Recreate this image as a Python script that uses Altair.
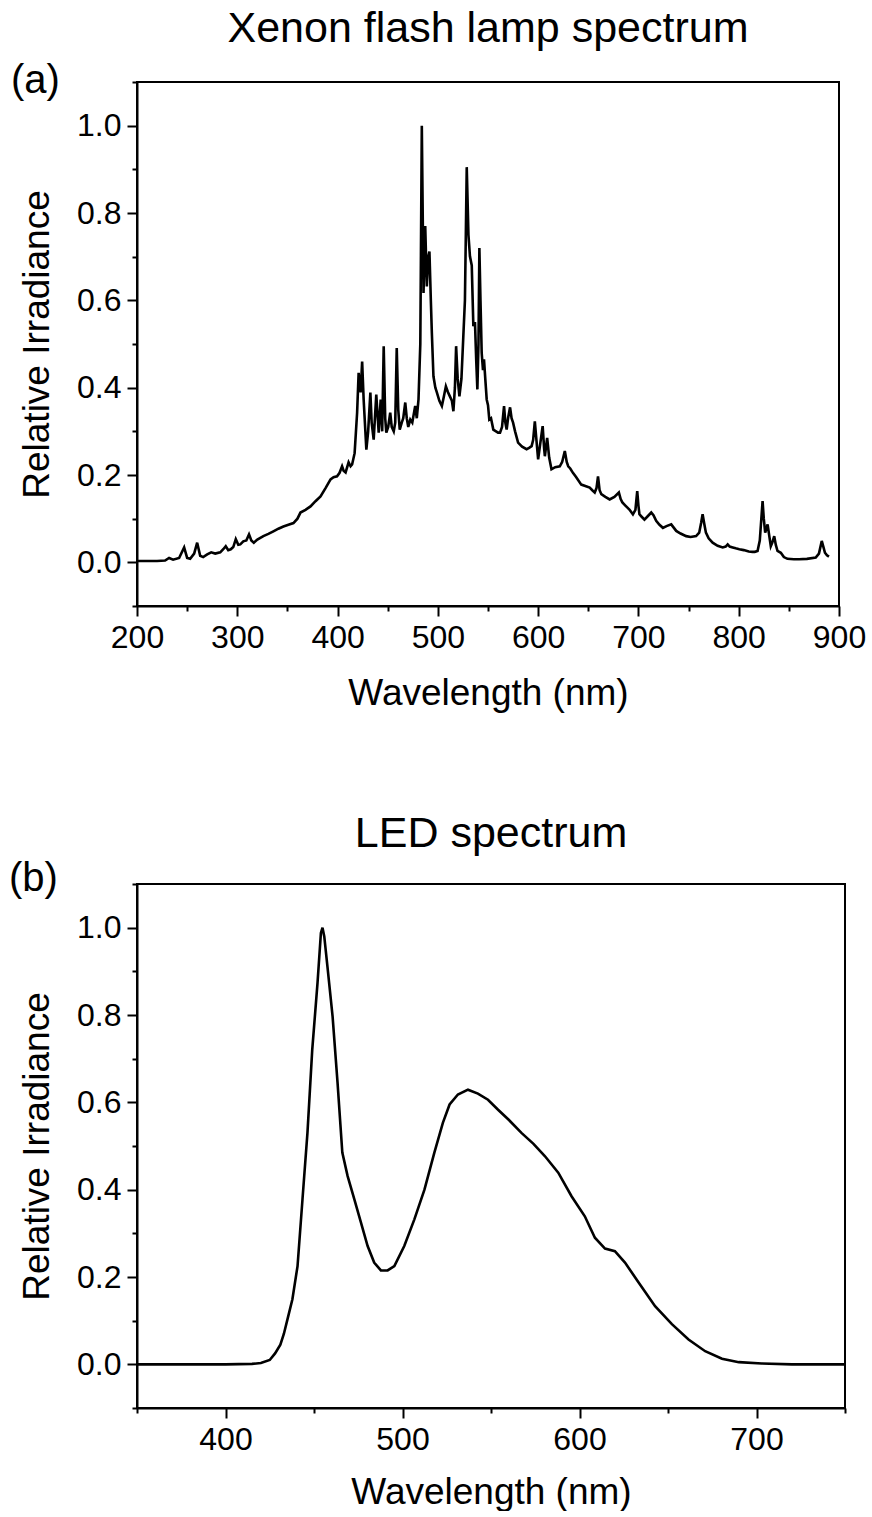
import altair as alt
import pandas as pd

# ---------------- data ----------------
xenon_nm = [200, 210, 220, 228, 232, 236, 242, 247, 250, 253, 257, 260, 263, 266, 270, 274, 278, 283, 286, 288.5,
            291, 293.5, 296, 298.5, 301, 303, 306, 309, 311.7, 314, 316.5, 320, 326, 331, 336, 341, 346, 351, 356, 360,
            363, 368, 373, 378, 383, 388, 393, 396, 399.5, 402, 404.5, 406, 408, 411, 413, 414.5, 417, 419.5, 421, 423,
            424.5, 426, 428.7, 430.5, 432.7, 434, 436, 438.6, 441, 443, 444.5, 446, 447.5, 448.6, 450.5, 452.5, 454, 456,
            457.5, 459, 460.5, 462, 464, 465.5, 467.5, 469, 470.5, 472.5, 474.5, 477.4, 479, 480.7, 482.5, 484, 485.7,
            487.4, 489, 490.5, 491.6, 493, 494, 495.6, 497.5, 499, 501.5, 504, 506, 508, 510, 512, 514, 515.5, 517,
            518.2, 519.8, 521.5, 523.5, 525.4, 527, 528.8, 530.5, 532, 533.8, 535.4, 537, 538.3, 539.4, 540.5, 541.4,
            542.5, 543.7, 545, 546, 547.3, 548.7, 550, 551.3, 553, 555.3, 558, 560, 562, 564, 566, 567.3, 568.6, 570,
            572, 573.5, 575, 577, 580, 584, 588.5, 591, 593.5, 595, 596.7, 598.3, 600, 602, 604.5, 606, 606.7, 609, 611,
            613.3, 617, 621.6, 624, 626.6, 628.5, 630, 632, 634.7, 638, 643, 647, 651.4, 654, 656.4, 658.2, 659.7,
            661.3, 663, 667, 671.3, 676, 680.5, 682.3, 684, 687, 691, 694.5, 697, 698.8, 700, 701, 703, 706, 709, 712.8,
            715, 717.7, 721, 724.4, 728, 732.7, 735, 737.7, 742, 747.6, 752, 757.5, 760.6, 762.5, 764, 765.5, 767.3,
            770, 774, 779, 784, 787, 789, 791, 794, 797, 800.6, 805, 810, 813.8, 816, 818.8, 821, 823.8, 825, 826.4,
            828.8, 830.5, 832, 833.5, 835.4, 837, 838.7, 842, 845, 848.6, 855, 860.2, 868, 876.8, 880, 882.8, 884.5,
            886, 888, 890]
xenon_val = [0.003, 0.003, 0.003, 0.004, 0.01, 0.006, 0.01, 0.034, 0.01, 0.008, 0.02, 0.045, 0.015, 0.012, 0.018, 0.023,
             0.02, 0.023, 0.03, 0.037, 0.028, 0.03, 0.035, 0.053, 0.04, 0.041, 0.048, 0.05, 0.064, 0.05, 0.045, 0.052,
             0.06, 0.065, 0.071, 0.077, 0.082, 0.086, 0.09, 0.1, 0.114, 0.12, 0.128, 0.14, 0.151, 0.17, 0.19, 0.195,
             0.197, 0.205, 0.22, 0.21, 0.206, 0.229, 0.22, 0.224, 0.25, 0.343, 0.434, 0.389, 0.46, 0.373, 0.258, 0.3,
             0.389, 0.32, 0.281, 0.384, 0.297, 0.373, 0.3, 0.495, 0.33, 0.297, 0.31, 0.343, 0.31, 0.3, 0.32, 0.491,
             0.35, 0.304, 0.32, 0.33, 0.366, 0.33, 0.31, 0.327, 0.32, 0.358, 0.33, 0.373, 0.5, 1.0, 0.617, 0.77, 0.632,
             0.7, 0.712, 0.6, 0.526, 0.426, 0.4, 0.389, 0.37, 0.358, 0.38, 0.403, 0.39, 0.38, 0.37, 0.346, 0.4, 0.495,
             0.42, 0.38, 0.42, 0.518, 0.6, 0.905, 0.75, 0.701, 0.68, 0.541, 0.55, 0.46, 0.396, 0.5, 0.72, 0.6, 0.48,
             0.44, 0.465, 0.42, 0.373, 0.36, 0.327, 0.33, 0.304, 0.3, 0.297, 0.297, 0.31, 0.358, 0.32, 0.304, 0.33,
             0.355, 0.33, 0.32, 0.3, 0.274, 0.265, 0.259, 0.262, 0.266, 0.28, 0.323, 0.28, 0.236, 0.27, 0.312, 0.26,
             0.243, 0.285, 0.24, 0.213, 0.218, 0.22, 0.23, 0.255, 0.23, 0.22, 0.215, 0.205, 0.195, 0.178, 0.175, 0.171,
             0.165, 0.16, 0.17, 0.197, 0.165, 0.156, 0.15, 0.144, 0.15, 0.16, 0.145, 0.137, 0.13, 0.121, 0.11, 0.12,
             0.163, 0.13, 0.11, 0.105, 0.098, 0.105, 0.114, 0.108, 0.095, 0.086, 0.079, 0.083, 0.087, 0.08, 0.072,
             0.066, 0.06, 0.058, 0.06, 0.068, 0.09, 0.11, 0.09, 0.068, 0.055, 0.045, 0.038, 0.034, 0.036, 0.041, 0.036,
             0.034, 0.032, 0.03, 0.028, 0.025, 0.024, 0.024, 0.026, 0.05, 0.14, 0.1, 0.068, 0.087, 0.06, 0.037, 0.045,
             0.06, 0.04, 0.026, 0.022, 0.012, 0.008, 0.007, 0.007, 0.008, 0.011, 0.02, 0.049, 0.035, 0.022, 0.016,
             0.013]

led_nm = [350, 375, 400, 415, 420, 425, 428, 431, 433, 435, 437.8, 440.7, 443.5, 446.3, 449, 452, 453.9, 454.8, 455.8,
          457.6, 460.5, 463.3, 466, 469, 472.8, 476.5, 480.3, 484, 487.8, 491.6, 495.4, 501, 506.7, 512.4, 518, 522.8,
          526.6, 531.3, 537, 542.6, 548.3, 554, 560, 567.2, 574, 580.4, 588, 595.5, 603, 608.7, 614.4, 620, 625.7,
          633.3, 642.7, 652.2, 661.6, 671, 680.5, 690, 703, 720, 750]
led_val = [0.0, 0.0, 0.0, 0.001, 0.003, 0.01, 0.025, 0.045, 0.07, 0.103, 0.149, 0.225, 0.378, 0.53, 0.72, 0.874, 0.988,
           1.0, 0.98, 0.911, 0.797, 0.645, 0.485, 0.431, 0.378, 0.325, 0.271, 0.233, 0.215, 0.215, 0.225, 0.271, 0.332,
           0.4, 0.485, 0.553, 0.595, 0.618, 0.629, 0.62, 0.606, 0.583, 0.56, 0.53, 0.505, 0.477, 0.439, 0.385, 0.339,
           0.29, 0.265, 0.259, 0.233, 0.188, 0.133, 0.092, 0.057, 0.03, 0.013, 0.005, 0.002, 0.0, 0.0]

top_xticks = [200, 250, 300, 350, 400, 450, 500, 550, 600, 650, 700, 750, 800, 850, 900]
bottom_xticks = [350, 400, 450, 500, 550, 600, 650, 700, 750]
yticks = [-0.1, 0.0, 0.1, 0.2, 0.3, 0.4, 0.5, 0.6, 0.7, 0.8, 0.9, 1.0, 1.1]

FONT = "Liberation Sans, Arial, Helvetica, sans-serif"


def panel(nm, val, xdom, xticks, title, title_offset, xtitle_pad, tag, tag_x, tag_y, w, h):
    df = pd.DataFrame({"nm": nm, "val": val})
    line = alt.Chart(df).mark_line(color="black", strokeWidth=2.6).encode(
        x=alt.X("nm:Q",
                scale=alt.Scale(domain=xdom, nice=False, zero=False),
                axis=alt.Axis(values=xticks, title="Wavelength (nm)",
                              labelExpr="datum.value % 100 == 0 ? datum.label : ''",
                              tickSize={"condition": {"test": "datum.value % 100 != 0", "value": 5}, "value": 10},
                              labelFlush=False, labelOverlap=False,
                              labelPadding=6, titlePadding=xtitle_pad)),
        y=alt.Y("val:Q",
                scale=alt.Scale(domain=[-0.1, 1.1], nice=False, zero=False),
                axis=alt.Axis(values=yticks, title="Relative Irradiance",
                              labelExpr="round(datum.value*10) % 2 == 0 ? format(datum.value, '.1f') : ''",
                              tickSize={"condition": {"test": "round(datum.value*10) % 2 != 0", "value": 5},
                                        "value": 10},
                              labelFlush=False, labelOverlap=False,
                              labelPadding=6, titlePadding=20)),
    )
    label = alt.Chart(pd.DataFrame({"t": [tag]})).mark_text(
        font=FONT, fontSize=40, align="left", baseline="middle", color="black"
    ).encode(x=alt.value(tag_x), y=alt.value(tag_y), text="t:N")
    return alt.layer(line, label).properties(
        width=w, height=h,
        title=alt.TitleParams(title, font=FONT, fontSize=43, fontWeight="normal", color="black",
                              anchor="middle", frame="group", offset=title_offset),
    )


top = panel(xenon_nm, xenon_val, [200, 900], top_xticks, "Xenon flash lamp spectrum", 10, 22,
            "(a)", -126, -1, 702, 524)
bottom = panel(led_nm, led_val, [350, 750], bottom_xticks, "LED spectrum", 3, 19,
               "(b)", -128, -5, 708, 524)

chart = alt.concat(top, bottom, columns=1, spacing=100, align="none", bounds="full").properties(
    padding={"left": 8, "top": 7, "right": 0, "bottom": 0},
    background="white",
).configure_view(
    stroke="black", strokeWidth=2
).configure_axis(
    grid=False,
    labelFont=FONT, labelFontSize=32, labelColor="black",
    titleFont=FONT, titleFontSize=37, titleFontWeight="normal", titleColor="black",
    domainColor="black", domainWidth=2, tickColor="black", tickWidth=2,
)

chart.save("out.html", embed_options={"renderer": "svg", "actions": False})
